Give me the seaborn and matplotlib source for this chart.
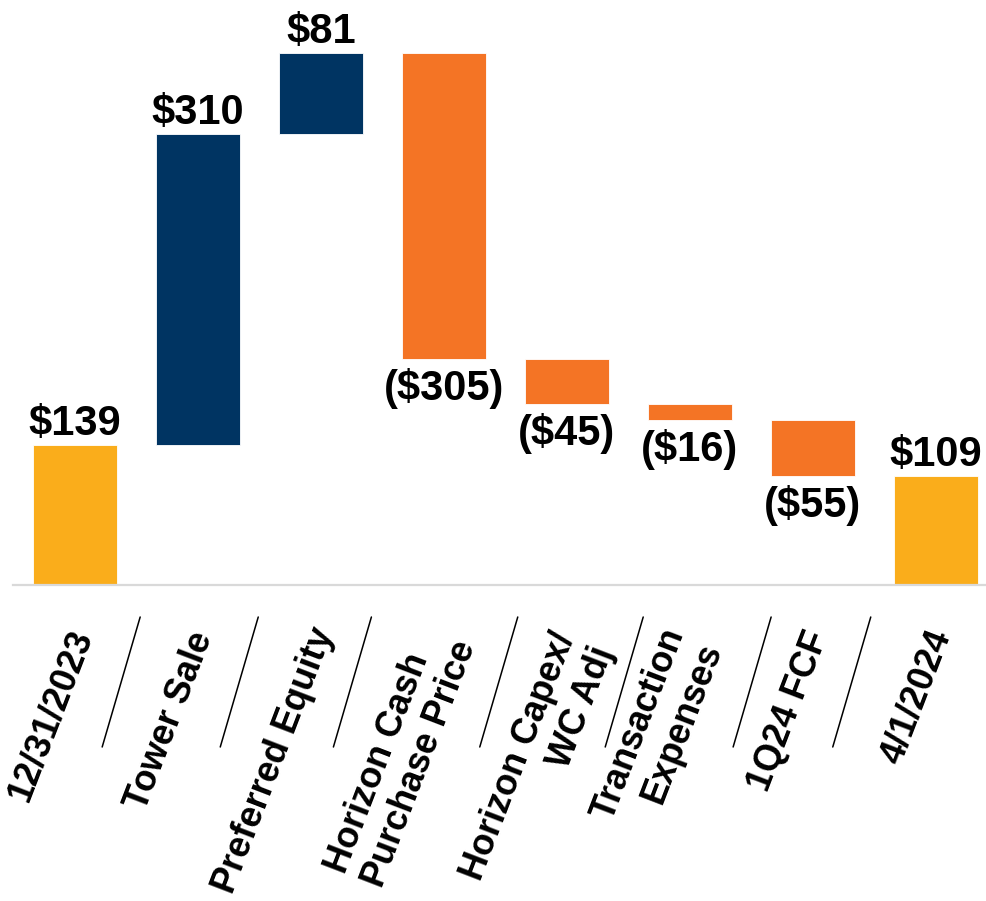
import numpy as np
import pandas as pd
import matplotlib
matplotlib.use("Agg")
import matplotlib.pyplot as plt
import matplotlib.transforms as mtransforms
from matplotlib.lines import Line2D
import seaborn as sns

# Cash bridge, $ millions
steps = ["12/31/2023", "Tower Sale", "Preferred Equity", "Horizon Cash\nPurchase Price",
         "Horizon Capex/\nWC Adj", "Transaction\nExpenses", "1Q24 FCF", "4/1/2024"]
amounts = [139, 310, 81, -305, -45, -16, -55, 109]
kinds = ["total", "increase", "increase", "decrease", "decrease", "decrease", "decrease", "total"]

palette = {"total": "#FAAD1B", "increase": "#003462", "decrease": "#F47425"}

# Layout helpers for the category captions and the slanted separators
label_align = ["right", "right", "right", "left", "right", "right", "right", "right"]
label_nudge_px = [(8, 10), (6, 8), (4, 12), (4, 6), (18, 0), (4, 4), (6, 8), (6, 10)]
separator_x = [0.53, 1.49, 2.41, 3.60, 4.62, 5.66, 6.47]

# Floating bar extents: totals start at zero, changes start at the running level
level = 0
lows, heights = [], []
for amt, kind in zip(amounts, kinds):
    if kind == "total":
        lows.append(0)
        heights.append(amt)
        level = amt
    else:
        start = level
        level = level + amt
        lows.append(min(start, level))
        heights.append(abs(amt))

df = pd.DataFrame({"step": steps, "amount": amounts, "kind": kinds,
                   "low": lows, "height": heights})
df["high"] = df["low"] + df["height"]

sns.set_theme(style="white")
plt.rcParams["font.family"] = ["Liberation Sans", "DejaVu Sans"]

W, H = 986, 901
fig = plt.figure(figsize=(W / 100, H / 100), dpi=100)
ax = fig.add_axes([13 / W, 316 / H, 973 / W, 585 / H])

for kind, color in palette.items():
    sub = df[df["kind"] == kind]
    sns.barplot(data=sub, x="step", y="height", order=steps, color=color,
                bottom=sub["low"].to_numpy(), width=0.683, errorbar=None,
                saturation=1, edgecolor="white", linewidth=0.6, ax=ax)

ax.set_xlim(-0.504, 7.407)
ax.set_ylim(0, 582.7)
ax.set_xticks([])
ax.set_yticks([])
ax.set_xlabel("")
ax.set_ylabel("")
for side in ["left", "right", "top"]:
    ax.spines[side].set_visible(False)
ax.spines["bottom"].set_color("#D9D9D9")
ax.spines["bottom"].set_linewidth(1.6)

# Value labels
for i, row in df.iterrows():
    amt = row["amount"]
    if amt >= 0:
        ax.annotate(f"${amt}", xy=(i, row["high"]), xytext=(0, 7.2),
                    textcoords="offset points", ha="center", va="baseline",
                    fontsize=30, fontweight="bold", color="black")
    else:
        ax.annotate(f"(${abs(amt)})", xy=(i, row["low"]), xytext=(0, -29.5),
                    textcoords="offset points", ha="center", va="baseline",
                    fontsize=30, fontweight="bold", color="black")

# Slanted category captions
blend = mtransforms.blended_transform_factory(ax.transData, ax.transAxes)
for i, (step, align, (nx, ny)) in enumerate(zip(steps, label_align, label_nudge_px)):
    ax.annotate(step, xy=(i, 0), xycoords=blend,
                xytext=(nx * 0.72, (-56 + ny) * 0.72), textcoords="offset points",
                rotation=69, rotation_mode="anchor", ha="right", va="center",
                multialignment=align, linespacing=1.2,
                fontsize=26, fontweight="bold", color="black",
                annotation_clip=False)

# Thin slanted separators between captions
slant = 38 / 123
for sx in separator_x:
    ax.add_line(Line2D([sx, sx - slant], [-32 / 585, -162 / 585], transform=blend,
                       color="black", linewidth=1.1, clip_on=False))

fig.savefig("out.png", dpi=100)
